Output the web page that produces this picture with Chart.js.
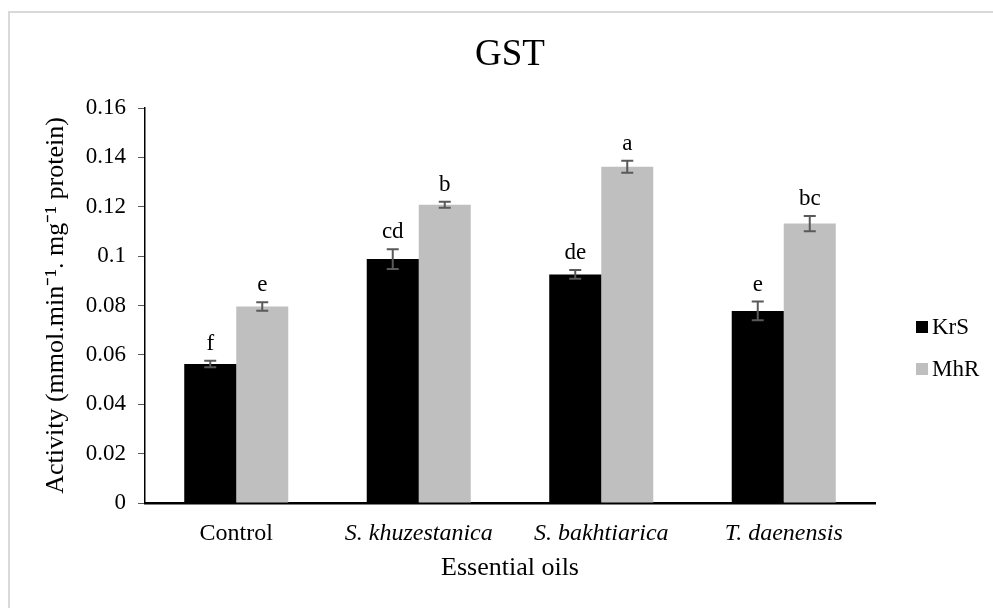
<!DOCTYPE html>
<html>
<head>
<meta charset="utf-8">
<script src="https://cdn.jsdelivr.net/npm/chart.js@4"></script>
<style>
  html, body { margin: 0; padding: 0; background: #fff; }
  #wrap { position: relative; width: 993px; height: 608px; }
</style>
</head>
<body>
<div id="wrap"><canvas id="c" width="993" height="608"></canvas></div>
<script>
const categories = ['Control', 'S. khuzestanica', 'S. bakhtiarica', 'T. daenensis'];
const seriesNames = ['KrS', 'MhR'];
const krsValues = [0.0563, 0.0988, 0.0926, 0.0778];
const krsErrors = [0.0013, 0.0040, 0.0018, 0.0038];
const krsLetters = ['f', 'cd', 'de', 'e'];
const mhrValues = [0.0796, 0.1208, 0.1362, 0.1132];
const mhrErrors = [0.0017, 0.0012, 0.0024, 0.0031];
const mhrLetters = ['e', 'b', 'a', 'bc'];
const yTicks = [0, 0.02, 0.04, 0.06, 0.08, 0.1, 0.12, 0.14, 0.16];

const FONT = '"Liberation Serif", "Times New Roman", serif';

const errorBarsPlugin = {
  id: 'errorBars',
  afterDatasetsDraw(chart) {
    const ctx = chart.ctx;
    const y = chart.scales.y;
    chart.data.datasets.forEach((ds, di) => {
      const meta = chart.getDatasetMeta(di);
      meta.data.forEach((bar, i) => {
        const v = ds.data[i];
        const e = ds.errors[i];
        const yTop = y.getPixelForValue(v + e);
        const yBot = y.getPixelForValue(v - e);
        const x = bar.x;
        ctx.save();
        ctx.strokeStyle = '#595959';
        ctx.lineWidth = 2;
        ctx.beginPath();
        ctx.moveTo(x, yTop); ctx.lineTo(x, yBot);
        ctx.moveTo(x - 6, yTop); ctx.lineTo(x + 6, yTop);
        ctx.moveTo(x - 6, yBot); ctx.lineTo(x + 6, yBot);
        ctx.stroke();
        ctx.fillStyle = '#000';
        ctx.font = '23px ' + FONT;
        ctx.textAlign = 'center';
        ctx.textBaseline = 'alphabetic';
        ctx.fillText(ds.letters[i], x, yTop - 11);
        ctx.restore();
      });
    });
  }
};

const frameLegendPlugin = {
  id: 'frameLegend',
  beforeDraw(chart) {
    const ctx = chart.ctx;
    ctx.save();
    ctx.fillStyle = '#fff';
    ctx.fillRect(0, 0, chart.width, chart.height);
    ctx.strokeStyle = '#d9d9d9';
    ctx.lineWidth = 2;
    ctx.strokeRect(9, 12, 1100, 1000);
    ctx.restore();
  },
  afterDraw(chart) {
    const ctx = chart.ctx;
    const items = [327, 369];
    ctx.save();
    ctx.font = '23px ' + FONT;
    ctx.textBaseline = 'middle';
    ctx.textAlign = 'left';
    chart.data.datasets.forEach((ds, i) => {
      ctx.fillStyle = ds.backgroundColor;
      ctx.fillRect(916, items[i] - 6, 12, 12);
      ctx.fillStyle = '#000';
      ctx.fillText(ds.label, 932, items[i] + 1);
    });
    ctx.restore();
  }
};

new Chart(document.getElementById('c'), {
  type: 'bar',
  data: {
    labels: categories,
    datasets: [
      { label: seriesNames[0], data: krsValues, errors: krsErrors, letters: krsLetters,
        backgroundColor: '#000000', borderWidth: 0 },
      { label: seriesNames[1], data: mhrValues, errors: mhrErrors, letters: mhrLetters,
        backgroundColor: '#bfbfbf', borderWidth: 0 }
    ]
  },
  options: {
    responsive: false,
    animation: false,
    devicePixelRatio: 1,
    layout: { padding: { left: 37, right: 118, top: 0, bottom: 20 } },
    datasets: { bar: { categoryPercentage: 0.57, barPercentage: 1.0 } },
    plugins: {
      legend: { display: false },
      tooltip: { enabled: false },
      title: {
        display: true,
        text: 'GST',
        fullSize: false,
        color: '#000',
        font: { family: FONT, size: 37, weight: 'normal', lineHeight: 1.2 },
        padding: { top: 33, bottom: 30.6 }
      }
    },
    scales: {
      x: {
        grid: { display: false },
        border: { display: true, color: '#000', width: 2.5 },
        ticks: {
          color: '#000',
          padding: 8,
          maxRotation: 0,
          autoSkip: false,
          font: (c) => ({ family: FONT, size: 24, style: c.index > 0 ? 'italic' : 'normal', lineHeight: 1.2 })
        },
        title: {
          display: true,
          text: 'Essential oils',
          color: '#000',
          font: { family: FONT, size: 26, lineHeight: 1.2 },
          padding: { top: 4, bottom: 4 }
        },
        afterFit: (s) => { s.height = 85; }
      },
      y: {
        min: 0,
        max: 0.16,
        afterBuildTicks: (s) => { s.ticks = yTicks.map(v => ({ value: v })); },
        grid: { display: true, drawOnChartArea: false, drawTicks: true, tickLength: 7, color: '#595959', lineWidth: 1 },
        border: { display: true, color: '#000', width: 1.5 },
        ticks: {
          color: '#000',
          padding: 12,
          font: { family: FONT, size: 23, lineHeight: 1.2 },
          callback: (v) => String(+Number(v).toFixed(2))
        },
        title: {
          display: true,
          text: 'Activity (mmol.min\u207B\u00B9. mg\u207B\u00B9 protein)',
          color: '#000',
          font: { family: FONT, size: 26, lineHeight: 1.2 },
          padding: { top: 4, bottom: 4 }
        },
        afterFit: (s) => { s.width = 108; }
      }
    }
  },
  plugins: [errorBarsPlugin, frameLegendPlugin]
});
</script>
</body>
</html>
